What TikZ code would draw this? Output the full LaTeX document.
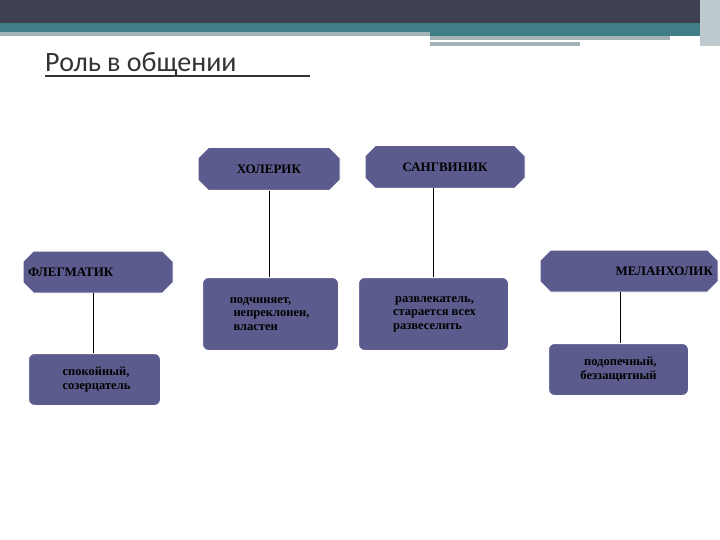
\documentclass[tikz,border=0pt]{standalone}
\usepackage{fontspec}
\setmainfont{Liberation Serif}
\newfontfamily\titlefont{Carlito}
\usetikzlibrary{shapes.misc}
\definecolor{boxc}{HTML}{5B5B8E}
\definecolor{barc}{HTML}{3F4152}
\definecolor{tealc}{HTML}{3F7E86}
\definecolor{greyc}{HTML}{A3B3B8}
\tikzset{
 head/.style={chamfered rectangle,chamfered rectangle xsep=6pt,chamfered rectangle ysep=6pt,fill=boxc,draw=white,line width=1pt,font=\bfseries\fontsize{13}{15}\selectfont,inner sep=0pt},
 desc/.style={rounded corners=6pt,fill=boxc,draw=white,line width=1pt,font=\bfseries\fontsize{12.5}{13.5}\selectfont,align=left,inner sep=0pt,anchor=north west},
 link/.style={draw=black,line width=0.8pt}
}
\begin{document}
\begin{tikzpicture}[x=1pt,y=-1pt]
\useasboundingbox (0,0) rectangle (720,540);
\fill[barc] (0,0) rectangle (720,23);
\fill[tealc] (0,23) rectangle (720,32);
\fill[greyc] (0,32) rectangle (430,36);
\fill[tealc] (430,32) rectangle (710,36);
\fill[greyc] (430,36) rectangle (670,40);
\fill[greyc] (430,42) rectangle (580,46);
\fill[greyc!70] (700,0) rectangle (720,46);
\node[anchor=base west,font=\titlefont\fontsize{28}{30}\selectfont,text=black!80,inner sep=0pt] (title) at (45,72) {Роль в общении};
\draw[black!80,line width=1.2pt] (45,76) -- (310,76);
\node[head,minimum width=142pt,minimum height=43pt] (hol) at (269,169) {ХОЛЕРИК};
\node[head,minimum width=160pt,minimum height=43pt] (san) at (445,167) {САНГВИНИК};
\node[head,minimum width=150pt,minimum height=42pt,text width=140pt,align=left] (fle) at (98,272) {ФЛЕГМАТИК};
\node[head,minimum width=178pt,minimum height=42pt,text width=168pt,align=right] (mel) at (629,271) {МЕЛАНХОЛИК};
\node[desc,minimum width=136pt,minimum height=73pt] (d1) at (202,277) {\hspace{-0.3em}\rule{0pt}{0pt}\hspace{2pt}подчиняет,\\\hspace{2pt}непреклонен,\\\hspace{2pt}властен};
\node[desc,minimum width=150pt,minimum height=73pt] (d2) at (358,277) {\hspace{4pt}развлекатель,\\\hspace{2pt}старается всех\\\hspace{2pt}развеселить};
\node[desc,minimum width=132pt,minimum height=52pt] (d3) at (28,353) {\hspace{4pt}спокойный,\\\hspace{4pt}созерцатель};
\node[desc,minimum width=140pt,minimum height=52pt,align=right] (d4) at (548,343) {подопечный,\hspace{4pt}\\беззащитный\hspace{4pt}};
\draw[link] (hol.south) -- (hol.south |- d1.north);
\draw[link] (433,188) -- (433,277);
\draw[link] (93,292.5) -- (93,353);
\draw[link] (620,292) -- (620,343);
\end{tikzpicture}
\end{document}
